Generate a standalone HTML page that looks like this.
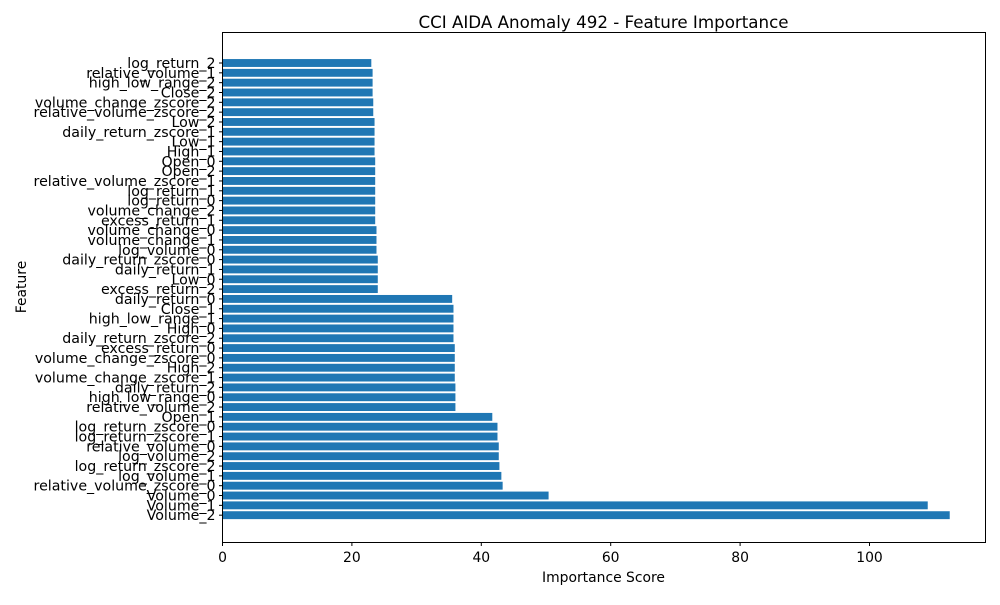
<!DOCTYPE html>
<html><head><meta charset="utf-8"><style>
body{margin:0;background:#fff;}
svg text{font-family:"DejaVu Sans","Liberation Sans",sans-serif;fill:#000;}
</style></head><body>
<svg id="chart" width="1000" height="600" xmlns="http://www.w3.org/2000/svg">
<rect width="1000" height="600" fill="#fff"/>
<text x="603.5" y="28" font-size="16.7" text-anchor="middle">CCI AIDA Anomaly 492 - Feature Importance</text>
<g id="bars"></g>
<g id="yticks"></g>
<g id="xticks"></g>
<rect x="222.5" y="32.5" width="763" height="510" fill="none" stroke="#000" stroke-width="1"/>
<text x="603.5" y="582" font-size="13.9" text-anchor="middle">Importance Score</text>
<text x="26" y="287" font-size="13.9" text-anchor="middle" transform="rotate(-90 26 287)">Feature</text>
</svg>
<script>
const features = ["log_return_2","relative_volume_1","high_low_range_2","Close_2","volume_change_zscore_2","relative_volume_zscore_2","Low_2","daily_return_zscore_1","Low_1","High_1","Open_0","Open_2","relative_volume_zscore_1","log_return_1","log_return_0","volume_change_2","excess_return_1","volume_change_0","volume_change_1","log_volume_0","daily_return_zscore_0","daily_return_1","Low_0","excess_return_2","daily_return_0","Close_1","high_low_range_1","High_0","daily_return_zscore_2","excess_return_0","volume_change_zscore_0","High_2","volume_change_zscore_1","daily_return_2","high_low_range_0","relative_volume_2","Open_1","log_return_zscore_0","log_return_zscore_1","relative_volume_0","log_volume_2","log_return_zscore_2","log_volume_1","relative_volume_zscore_0","Volume_0","Volume_1","Volume_2"];
const importance = [23.0,23.2,23.2,23.2,23.3,23.3,23.5,23.5,23.5,23.5,23.6,23.6,23.6,23.6,23.6,23.6,23.6,23.8,23.8,23.8,24.0,24.0,24.0,24.0,35.5,35.7,35.7,35.7,35.7,35.9,35.9,35.9,35.9,36.0,36.0,36.0,41.7,42.5,42.5,42.7,42.7,42.8,43.1,43.3,50.4,109.0,112.4];
const xTickValues = [0,20,40,60,80,100];
const NS="http://www.w3.org/2000/svg";
const x0=222.5, xScale=6.47;
function xPos(v){return x0+v*xScale;}
function yPos(i){return 63+i*9.83;}
const barH=7.9;
const gb=document.getElementById('bars'), gy=document.getElementById('yticks'), gx=document.getElementById('xticks');
features.forEach((f,i)=>{
  const r=document.createElementNS(NS,'rect');
  r.setAttribute('x',x0);r.setAttribute('y',yPos(i)-barH/2);
  r.setAttribute('width',xPos(importance[i])-x0);r.setAttribute('height',barH);
  r.setAttribute('fill','#1f77b4');
  
  
  gb.appendChild(r);
  const t=document.createElementNS(NS,'line');
  t.setAttribute('x1',x0-3.5);t.setAttribute('x2',x0);t.setAttribute('y1',yPos(i));t.setAttribute('y2',yPos(i));
  t.setAttribute('stroke','#000');
  gy.appendChild(t);
  const l=document.createElementNS(NS,'text');
  l.setAttribute('x',x0-7);l.setAttribute('y',yPos(i)+5);l.setAttribute('font-size','14.2');l.setAttribute('text-anchor','end');
  l.textContent=f;
  
  
  gy.appendChild(l);
});
xTickValues.forEach(v=>{
  const t=document.createElementNS(NS,'line');
  t.setAttribute('x1',xPos(v));t.setAttribute('x2',xPos(v));t.setAttribute('y1',542.5);t.setAttribute('y2',546);
  t.setAttribute('stroke','#000');
  gx.appendChild(t);
  const l=document.createElementNS(NS,'text');
  l.setAttribute('x',xPos(v));l.setAttribute('y',562);l.setAttribute('font-size','13.9');l.setAttribute('text-anchor','middle');
  l.textContent=v;
  
  
  gx.appendChild(l);
});
</script>
</body></html>
